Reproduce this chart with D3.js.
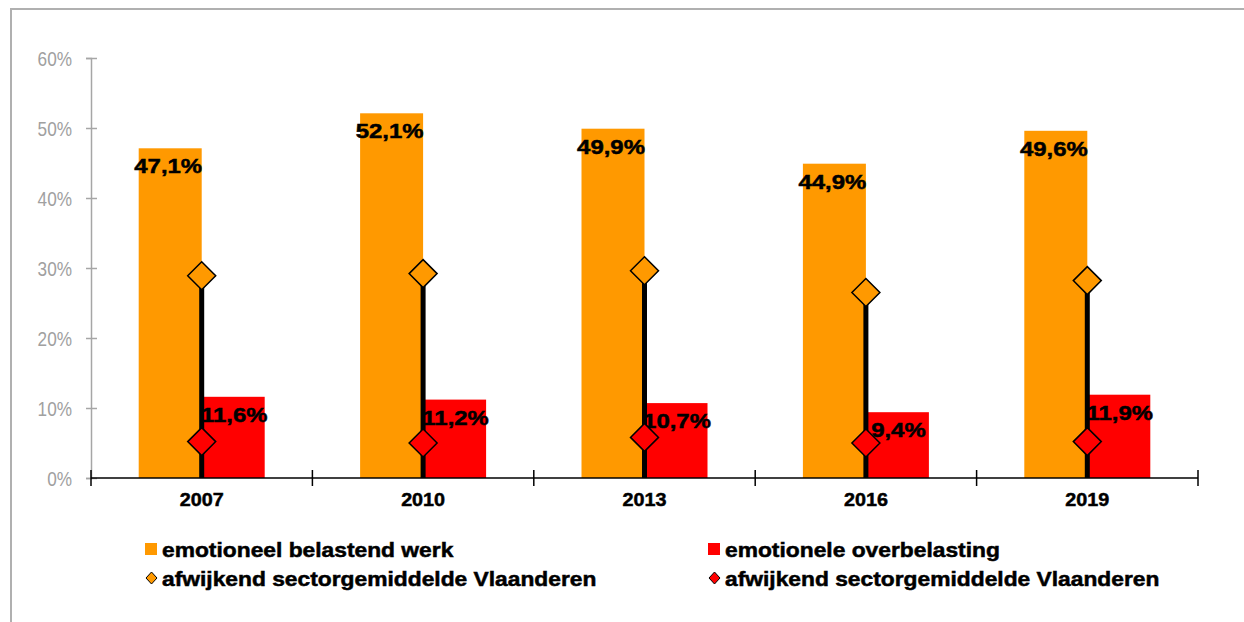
<!DOCTYPE html>
<html>
<head>
<meta charset="utf-8">
<script src="https://cdn.jsdelivr.net/npm/d3@7"></script>
<style>
  body { margin: 0; background: #fff; }
  svg { display: block; font-family: "Liberation Sans", Arial, sans-serif; }
  .heavy { stroke: #000; stroke-width: 0.5px; }
</style>
</head>
<body>
<div id="svg_div"><svg width="1244" height="622"></svg></div>
<script>
// Chart data
var years = ["2007", "2010", "2013", "2016", "2019"];
var belastend = [0.471, 0.521, 0.499, 0.449, 0.496];      // emotioneel belastend werk
var overbelasting = [0.116, 0.112, 0.107, 0.094, 0.119];  // emotionele overbelasting
var sectorBelastend = [0.289, 0.292, 0.296, 0.265, 0.282]; // afwijkend sectorgemiddelde (orange)
var sectorOver = [0.052, 0.050, 0.058, 0.050, 0.052];      // afwijkend sectorgemiddelde (red)
var yTicks = [0, 0.1, 0.2, 0.3, 0.4, 0.5, 0.6];
var legendLabels = ["emotioneel belastend werk", "emotionele overbelasting",
                    "afwijkend sectorgemiddelde Vlaanderen", "afwijkend sectorgemiddelde Vlaanderen"];

var orange = "#ff9900", red = "#ff0000";

var svg = d3.select("#svg_div").select("svg");

// Outer frame (cut off at right and bottom)
svg.append("rect")
    .attr("x", 11).attr("y", 9)
    .attr("width", 1300).attr("height", 700)
    .attr("fill", "none")
    .attr("stroke", "#b0b0b0")
    .attr("stroke-width", 2);

// Scales
var xScale = d3.scaleBand().domain(years).range([91, 1198]).padding(0);
var yScale = d3.scaleLinear().domain([0, 0.6]).range([478, 58]);
var barW = 63;
function cx(i) { return xScale(years[i]) + xScale.bandwidth() / 2; }

// Y axis
var yAxis = d3.axisLeft(yScale)
    .tickValues(yTicks)
    .tickSize(5)
    .tickPadding(14)
    .tickFormat(d3.format(".0%"));
var yAxisG = svg.append("g")
    .attr("class", "y axis")
    .attr("transform", "translate(91,0)")
    .call(yAxis);
yAxisG.select(".domain").attr("stroke", "#a6a6a6").attr("stroke-width", 1.5);
yAxisG.selectAll(".tick line").attr("x1", 6).attr("x2", -5).attr("stroke", "#a6a6a6").attr("stroke-width", 1.5);
// narrow, tall grey tick labels
yAxisG.selectAll(".tick text")
    .attr("x", null)
    .attr("transform", "translate(-19,1) scale(0.86,1)")
    .attr("fill", "#a0a0a0")
    .style("font-size", "20px");

// Bars
var bars = svg.append("g").attr("class", "bars");
bars.selectAll(".bar-a")
    .data(belastend)
    .enter().append("rect")
    .attr("class", "bar-a")
    .attr("x", function(d, i) { return cx(i) - barW; })
    .attr("y", function(d) { return yScale(d); })
    .attr("width", barW)
    .attr("height", function(d) { return yScale(0) - yScale(d); })
    .attr("fill", orange);
bars.selectAll(".bar-b")
    .data(overbelasting)
    .enter().append("rect")
    .attr("class", "bar-b")
    .attr("x", function(d, i) { return cx(i); })
    .attr("y", function(d) { return yScale(d); })
    .attr("width", barW)
    .attr("height", function(d) { return yScale(0) - yScale(d); })
    .attr("fill", red);

// Value labels
var fmt = function(d) { return (d * 100).toFixed(1).replace(".", ",") + "%"; };
function addLabels(data, offset) {
    svg.append("g").selectAll("text")
        .data(data)
        .enter().append("text")
        .attr("class", "heavy")
        .attr("transform", function(d, i) {
            return "translate(" + (cx(i) + offset) + "," + (yScale(d) + 25) + ") scale(1.14,1)";
        })
        .attr("text-anchor", "middle")
        .style("font-size", "21px")
        .style("font-weight", "bold")
        .text(fmt);
}
addLabels(belastend, -barW / 2 - 2);
addLabels(overbelasting, barW / 2 + 1);

// X axis
var xAxisG = svg.append("g").attr("class", "x axis");
xAxisG.append("line")
    .attr("x1", 91).attr("x2", 1198)
    .attr("y1", 478).attr("y2", 478)
    .attr("stroke", "#000").attr("stroke-width", 1.5);
var edges = years.map(function(y) { return xScale(y); }).concat([xScale.range()[1]]);
xAxisG.selectAll(".edge")
    .data(edges)
    .enter().append("line")
    .attr("class", "edge")
    .attr("x1", function(d) { return d; }).attr("x2", function(d) { return d; })
    .attr("y1", 470).attr("y2", 486)
    .attr("stroke", "#000").attr("stroke-width", 1.5);
xAxisG.selectAll(".xlabel")
    .data(years)
    .enter().append("text")
    .attr("class", "xlabel heavy")
    .attr("transform", function(d, i) { return "translate(" + cx(i) + ",506) scale(1.04,1)"; })
    .attr("text-anchor", "middle")
    .style("font-size", "19px")
    .style("font-weight", "bold")
    .text(function(d) { return d; });

// Black drop lines from sector average to zero
svg.append("g").selectAll("line")
    .data(sectorBelastend)
    .enter().append("line")
    .attr("x1", function(d, i) { return cx(i); })
    .attr("x2", function(d, i) { return cx(i); })
    .attr("y1", function(d) { return yScale(d); })
    .attr("y2", yScale(0))
    .attr("stroke", "#000")
    .attr("stroke-width", 5);

// Diamond markers
function diamond(s) { return "M0," + (-s) + "L" + s + ",0L0," + s + "L" + (-s) + ",0Z"; }
function addDiamonds(data, color) {
    svg.append("g").selectAll("path")
        .data(data)
        .enter().append("path")
        .attr("d", diamond(14))
        .attr("transform", function(d, i) { return "translate(" + cx(i) + "," + yScale(d) + ")"; })
        .attr("fill", color)
        .attr("stroke", "#000")
        .attr("stroke-width", 1.5);
}
addDiamonds(sectorBelastend, orange);
addDiamonds(sectorOver, red);

// Legend
var legendItems = [
    {label: legendLabels[0], color: orange, shape: "square", x: 145, y: 549},
    {label: legendLabels[1], color: red, shape: "square", x: 708, y: 549},
    {label: legendLabels[2], color: orange, shape: "diamond", x: 145, y: 578},
    {label: legendLabels[3], color: red, shape: "diamond", x: 708, y: 578}
];
var legend = svg.append("g").attr("class", "legend");
var li = legend.selectAll("g")
    .data(legendItems)
    .enter().append("g")
    .attr("transform", function(d) { return "translate(" + d.x + "," + d.y + ")"; });
li.filter(function(d) { return d.shape === "square"; })
    .append("rect")
    .attr("x", 0).attr("y", -6)
    .attr("width", 12).attr("height", 12)
    .attr("fill", function(d) { return d.color; });
li.filter(function(d) { return d.shape === "diamond"; })
    .append("path")
    .attr("d", "M0,-6L5.5,0L0,6L-5.5,0Z")
    .attr("transform", "translate(6.5,0)")
    .attr("fill", function(d) { return d.color; })
    .attr("stroke", "#000")
    .attr("stroke-width", 1);
li.append("text")
    .attr("class", "heavy")
    .attr("transform", "translate(17,7.5) scale(1.14,1)")
    .style("font-size", "20px")
    .style("font-weight", "bold")
    .text(function(d) { return d.label; });
</script>
</body>
</html>
